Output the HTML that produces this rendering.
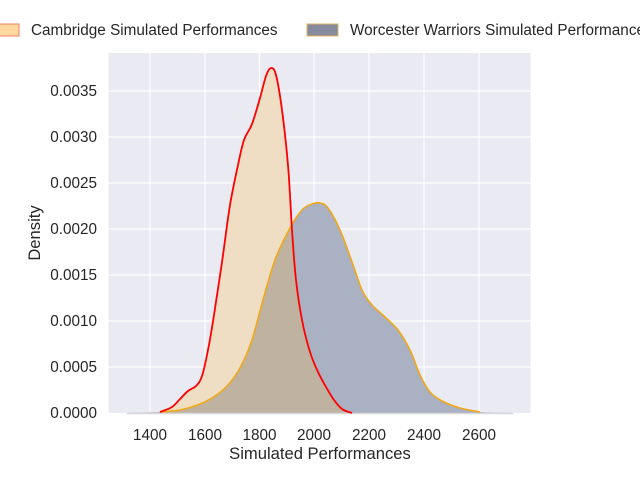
<!DOCTYPE html>
<html><head><meta charset="utf-8"><style>
body{margin:0;background:#fff;}
svg{display:block;font-family:"Liberation Sans",sans-serif;}
</style></head><body>
<svg id="s" width="640" height="480" viewBox="0 0 640 480">
<rect x="108.5" y="53" width="422" height="360" fill="#eaeaf2"/>
<g stroke="#fff" stroke-width="1.2">
<line x1="150" y1="53" x2="150" y2="413"/><line x1="205" y1="53" x2="205" y2="413"/>
<line x1="259.5" y1="53" x2="259.5" y2="413"/><line x1="314" y1="53" x2="314" y2="413"/>
<line x1="369" y1="53" x2="369" y2="413"/><line x1="424" y1="53" x2="424" y2="413"/>
<line x1="479" y1="53" x2="479" y2="413"/>
<line x1="108.5" y1="91" x2="530.5" y2="91"/><line x1="108.5" y1="137" x2="530.5" y2="137"/>
<line x1="108.5" y1="183" x2="530.5" y2="183"/><line x1="108.5" y1="229" x2="530.5" y2="229"/>
<line x1="108.5" y1="275" x2="530.5" y2="275"/><line x1="108.5" y1="321" x2="530.5" y2="321"/>
<line x1="108.5" y1="367" x2="530.5" y2="367"/>
</g>
<defs><clipPath id="cc"><path id="cp"/></clipPath></defs>
<path id="cf" fill="#f0dec4"/>
<path id="wf" fill="#aab1c2"/>
<path id="of" fill="#c0b2a0" clip-path="url(#cc)"/>
<line x1="127" y1="413.5" x2="513" y2="413.5" stroke="#d8d8dc" stroke-width="1.5"/>
<path id="wl" fill="none" stroke="#f0a818" stroke-width="1.6"/>
<path id="cl" fill="none" stroke="#ff0000" stroke-width="1.8"/>
<g font-size="15.3" fill="#262626" text-anchor="end">
<text x="97" y="96">0.0035</text><text x="97" y="142">0.0030</text><text x="97" y="188">0.0025</text>
<text x="97" y="234">0.0020</text><text x="97" y="280">0.0015</text><text x="97" y="326">0.0010</text>
<text x="97" y="372">0.0005</text><text x="97" y="418">0.0000</text>
</g>
<g font-size="15.3" fill="#262626" text-anchor="middle">
<text x="150" y="440">1400</text><text x="205" y="440">1600</text><text x="259.5" y="440">1800</text>
<text x="314" y="440">2000</text><text x="369" y="440">2200</text><text x="424" y="440">2400</text>
<text x="479" y="440">2600</text>
<text x="320" y="459" font-size="16.6">Simulated Performances</text>
<text transform="translate(40,233) rotate(-90)" font-size="16.6">Density</text>
</g>
<rect x="-12" y="24" width="31" height="12" fill="#ffd9a0" stroke="#f08060"/>
<text x="31" y="35" font-size="15.3" fill="#262626">Cambridge Simulated Performances</text>
<rect x="307" y="24" width="31" height="12" fill="#858b9d" stroke="#e0b060"/>
<text x="350" y="35" font-size="15.3" fill="#262626">Worcester Warriors Simulated Performances</text>
</svg>
<script>
function cr(p){let d="M"+p[0][0]+","+p[0][1];for(let i=0;i<p.length-1;i++){const a=p[i-1]||p[i],b=p[i],c=p[i+1],e=p[i+2]||c;
d+=" C"+(b[0]+(c[0]-a[0])/6).toFixed(1)+","+(b[1]+(c[1]-a[1])/6).toFixed(1)+" "+(c[0]-(e[0]-b[0])/6).toFixed(1)+","+(c[1]-(e[1]-b[1])/6).toFixed(1)+" "+c[0]+","+c[1];}return d;}
const R=[[127,413],[160,412],[172,407],[180,399],[188,391],[196,386],[202,376],[208,350],[214,315],[222,262],[230,205],[238,165],[244,140],[252,124],[260,98],[266,76],[271,68],[276,75],[282,110],[288,165],[292,230],[296,280],[302,320],[310,352],[318,372],[326,387],[334,400],[342,409],[352,413],[370,413]];
const W=[[127,413],[160,412],[180,410],[200,404],[215,396],[228,385],[240,368],[252,340],[263,300],[275,260],[290,228],[302,210],[312,204],[320,203],[328,208],[340,230],[352,262],[362,290],[372,305],[385,317],[398,330],[410,350],[420,375],[430,392],[442,401],[460,408],[480,412],[513,413]];
const r=cr(R),w=cr(W);
const g=id=>document.getElementById(id);
g("cf").setAttribute("d",r+" Z");g("cp").setAttribute("d",r+" Z");
g("wf").setAttribute("d",w+" Z");g("of").setAttribute("d",w+" Z");
g("wl").setAttribute("d",cr(W.slice(1,-1)));g("cl").setAttribute("d",cr(R.slice(1,-1)));
</script>
</body></html>
